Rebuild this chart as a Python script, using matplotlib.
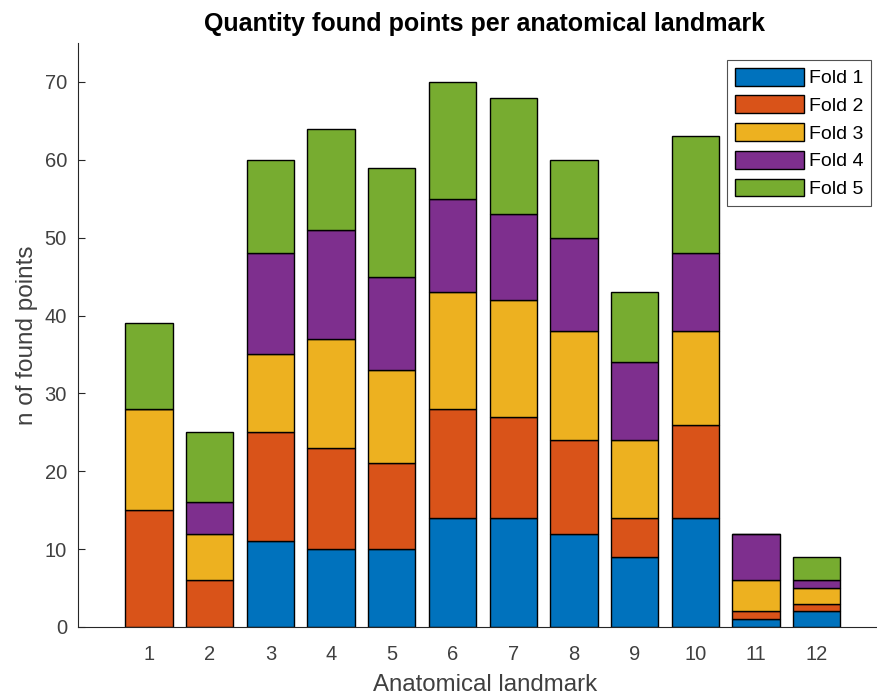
import matplotlib
matplotlib.use("Agg")
import matplotlib.pyplot as plt
import numpy as np

landmarks = [1, 2, 3, 4, 5, 6, 7, 8, 9, 10, 11, 12]
fold1 = [0, 0, 11, 10, 10, 14, 14, 12, 9, 14, 1, 2]
fold2 = [15, 6, 14, 13, 11, 14, 13, 12, 5, 12, 1, 1]
fold3 = [13, 6, 10, 14, 12, 15, 15, 14, 10, 12, 4, 2]
fold4 = [0, 4, 13, 14, 12, 12, 11, 12, 10, 10, 6, 1]
fold5 = [11, 9, 12, 13, 14, 15, 15, 10, 9, 15, 0, 3]
series_names = ["Fold 1", "Fold 2", "Fold 3", "Fold 4", "Fold 5"]
colors = ["#0072BD", "#D95319", "#EDB120", "#7E2F8E", "#77AC30"]

plt.rcParams['font.family'] = ['Liberation Sans', 'DejaVu Sans']

fig = plt.figure(figsize=(8.78, 6.99), dpi=100)
W, H = 878, 699
left, right, top, bottom = 78, 892, 43, 627
ax = fig.add_axes([left / W, 1 - bottom / H, (right - left) / W, (bottom - top) / H])

base = np.zeros(len(landmarks))
for vals, name, c in zip([fold1, fold2, fold3, fold4, fold5], series_names, colors):
    v = np.array(vals, dtype=float)
    ax.bar(landmarks, v, bottom=base, width=0.78, color=c, edgecolor="black",
           linewidth=1.0, label=name)
    base += v

ax.set_xlim(-0.17, 13.24)
ax.set_ylim(0, 75)
ax.set_xticks(landmarks)
ax.set_yticks(range(0, 71, 10))
ax.spines['top'].set_visible(False)
ax.spines['right'].set_visible(False)
for s in ['left', 'bottom']:
    ax.spines[s].set_color('#262626')
    ax.spines[s].set_linewidth(0.8)
ax.tick_params(direction='in', length=5, width=0.8, colors='#262626',
               labelsize=14.5, labelcolor='#404040', pad=8)
ax.tick_params(axis='x', length=0, pad=13)

ax.set_title("Quantity found points per anatomical landmark", fontsize=18,
             fontweight='bold', pad=9, color='black')
ax.set_xlabel("Anatomical landmark", fontsize=17.3, color='#404040', labelpad=7)
ax.set_ylabel("n of found points", fontsize=17.5, color='#404040', labelpad=4.5)

leg = ax.legend(loc='upper left', bbox_to_anchor=((727 - left) / (right - left), 1 - (60 - top) / (bottom - top)),
                fontsize=14, frameon=True, fancybox=False, edgecolor='#262626',
                handlelength=3.55, handleheight=1.03, handletextpad=0.26,
                labelspacing=0.42, borderpad=0.4, borderaxespad=0)
leg.get_frame().set_linewidth(0.8)

fig.savefig("out.png", dpi=100)
